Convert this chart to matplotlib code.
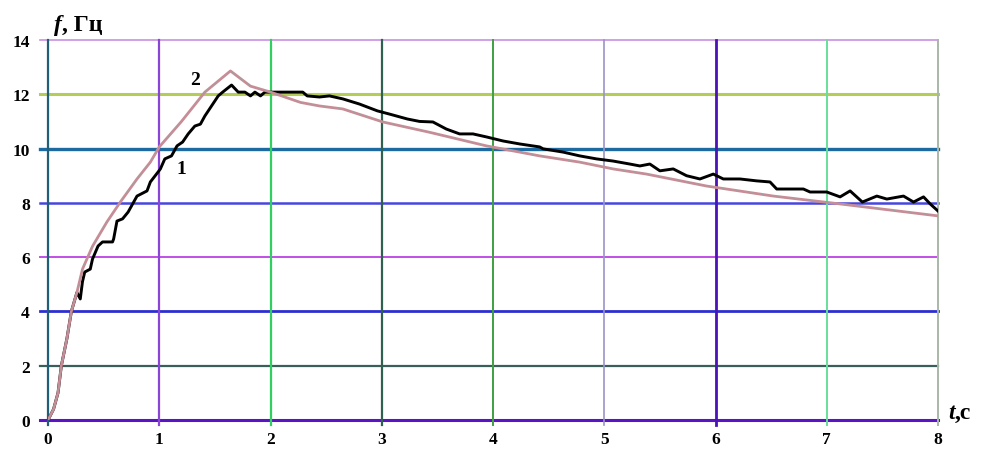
import numpy as np
import matplotlib
matplotlib.use('Agg')
from matplotlib import pyplot as plt

# curve 1: measured frequency (black, stepped)
t1 = [0.0, 0.05, 0.09, 0.12, 0.17, 0.21, 0.26, 0.29, 0.31, 0.33, 0.38, 0.40, 0.45, 0.49,
      0.58, 0.59, 0.62, 0.67, 0.72, 0.80, 0.89, 0.92, 0.99, 1.01, 1.05, 1.11, 1.16, 1.21,
      1.26, 1.32, 1.37, 1.41, 1.47, 1.53, 1.57, 1.65, 1.71, 1.77, 1.82, 1.86, 1.91, 1.95,
      2.11, 2.29, 2.33, 2.44, 2.53, 2.65, 2.80, 2.96, 3.07, 3.23, 3.34, 3.46, 3.58, 3.70,
      3.82, 3.94, 4.09, 4.24, 4.42, 4.45, 4.63, 4.78, 4.93, 5.08, 5.23, 5.32, 5.41, 5.50,
      5.62, 5.74, 5.86, 5.98, 6.07, 6.22, 6.37, 6.49, 6.55, 6.67, 6.79, 6.85, 7.00, 7.12,
      7.21, 7.32, 7.45, 7.54, 7.69, 7.78, 7.87, 7.93, 8.00]
f1 = [0.0, 0.4, 1.0, 2.0, 3.0, 4.0, 4.7, 4.46, 5.1, 5.45, 5.56, 5.93, 6.41, 6.56,
      6.56, 6.67, 7.33, 7.41, 7.66, 8.25, 8.44, 8.77, 9.14, 9.25, 9.62, 9.73, 10.1, 10.24,
      10.54, 10.83, 10.9, 11.2, 11.57, 11.94, 12.08, 12.34, 12.08, 12.08, 11.94, 12.08, 11.94, 12.08,
      12.08, 12.08, 11.94, 11.9, 11.94, 11.83, 11.64, 11.39, 11.27, 11.09, 11.0, 10.98, 10.72, 10.54,
      10.54, 10.43, 10.28, 10.17, 10.06, 9.99, 9.87, 9.73, 9.62, 9.54, 9.43, 9.36, 9.43, 9.18,
      9.25, 9.0, 8.88, 9.06, 8.88, 8.88, 8.81, 8.77, 8.51, 8.51, 8.51, 8.40, 8.40, 8.22,
      8.44, 8.03, 8.25, 8.14, 8.25, 8.03, 8.22, 7.96, 7.70]

# curve 2: calculated frequency (smooth)
t2 = [0.0, 0.05, 0.09, 0.12, 0.17, 0.21, 0.26, 0.31, 0.40, 0.53, 0.65, 0.80, 0.92, 1.00,
      1.20, 1.41, 1.64, 1.82, 2.00, 2.27, 2.44, 2.65, 3.01, 3.43, 3.94, 4.42, 4.78, 5.08,
      5.38, 5.92, 6.52, 7.12, 7.72, 8.00]
f2 = [0.0, 0.4, 1.0, 2.0, 3.0, 4.0, 4.7, 5.56, 6.4, 7.3, 8.03, 8.88, 9.5, 10.06,
      11.0, 12.08, 12.86, 12.3, 12.08, 11.7, 11.57, 11.46, 10.98, 10.6, 10.1, 9.73, 9.5, 9.25,
      9.06, 8.62, 8.25, 7.96, 7.66, 7.52]

x_ticks = [0, 1, 2, 3, 4, 5, 6, 7, 8]
y_ticks = [0, 2, 4, 6, 8, 10, 12, 14]
x_grid_colors = ['#1f5f78', '#8a44d8', '#30d060', '#2f6050', '#3ea040',
                 '#9a94c8', '#4a12b8', '#66e09a', '#a8b8a8']
y_grid_colors = ['#5a14c8', '#3a5f5a', '#2e2ed0', '#c050e6', '#4646e0',
                 '#1c6aa0', '#b4cc58', '#c890e0']
y_grid_widths = [2.2, 1.6, 2.0, 1.4, 1.8, 2.4, 2.2, 1.2]
x_grid_widths = [1.6, 1.6, 1.6, 1.6, 1.4, 1.2, 2.0, 1.4, 1.4]

serif = 'Liberation Serif'

fig = plt.figure(figsize=(9.86, 4.64), dpi=100)
ax = fig.add_axes([48 / 986, 1 - 421 / 464, 890 / 986, 380 / 464])
ax.set_xlim(0, 8)
ax.set_ylim(0, 14)
for s in ax.spines.values():
    s.set_visible(False)

# coloured grid, slightly overhanging the plot area like tick marks
for y, c, w in zip(y_ticks, y_grid_colors, y_grid_widths):
    ax.axhline(y, xmin=-8 / 890, xmax=1, color=c, lw=w, clip_on=False, zorder=1)
for x, c, w in zip(x_ticks, x_grid_colors, x_grid_widths):
    ax.axvline(x, ymin=-5 / 380, ymax=1, color=c, lw=w, clip_on=False, zorder=1)

ax.plot(t1, f1, color='black', lw=2.1, zorder=3)
ax.plot(t2, f2, color='#c98c96', lw=2.0, zorder=4)
ax.plot(t2, f2, color='#a0a0a0', lw=0.8, ls=(0, (1, 2)), zorder=4)

ax.text(1.32, 12.55, '2', fontfamily=serif, fontweight='bold', fontsize=14,
        ha='center', va='center')
ax.text(1.2, 9.25, '1', fontfamily=serif, fontweight='bold', fontsize=14,
        ha='center', va='center')

ax.set_xticks(x_ticks)
ax.set_yticks(y_ticks)
ax.set_xticklabels([str(v) for v in x_ticks], fontfamily=serif, fontweight='bold', fontsize=12.5)
ax.set_yticklabels([str(v) for v in y_ticks], fontfamily=serif, fontweight='bold', fontsize=12.5)
ax.tick_params(axis='y', length=0, pad=13)
ax.tick_params(axis='x', length=0, pad=8)

fig.text(54 / 986, 1 - 31 / 464, 'f', fontfamily=serif, fontstyle='italic',
         fontweight='bold', fontsize=17, va='baseline')
fig.text(62 / 986, 1 - 31 / 464, ', Гц', fontfamily=serif, fontweight='bold',
         fontsize=17, va='baseline')
fig.text(948 / 986, 1 - 419 / 464, 't', fontfamily=serif, fontstyle='italic',
         fontweight='bold', fontsize=17, va='baseline')
fig.text(955 / 986, 1 - 419 / 464, ',c', fontfamily=serif, fontweight='bold',
         fontsize=17, va='baseline')

fig.savefig('out.png', dpi=100)
